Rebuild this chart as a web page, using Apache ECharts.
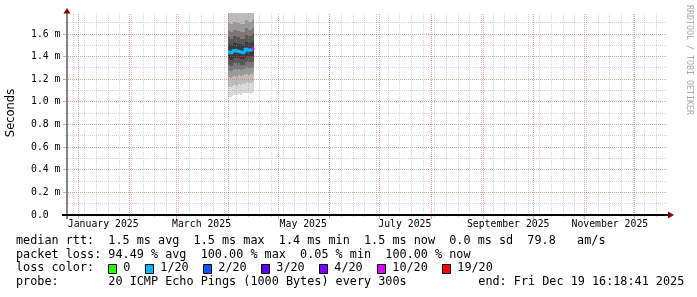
<!DOCTYPE html>
<html><head><meta charset="utf-8">
<script src="https://cdn.jsdelivr.net/npm/echarts@6/dist/echarts.min.js"></script>
<style>html,body{margin:0;padding:0;background:#fff}#c{width:697px;height:297px}</style>
</head><body><div id="c"></div>
<script>
// ---------------- data ----------------
const DAY = 86400000;
const rangeStart = '2024-12-24T16:18:41Z';
const rangeEnd = '2025-12-19T16:18:41Z';
const yMaxMs = 1.786;

const yTickValues = [0, 0.2, 0.4, 0.6, 0.8, 1.0, 1.2, 1.4, 1.6];
const yTickLabels = ['0.0', '0.2 m', '0.4 m', '0.6 m', '0.8 m', '1.0 m', '1.2 m', '1.4 m', '1.6 m'];
const yMinorStep = 0.1;

const xLabelMonths = ['2025-01-01', '2025-03-01', '2025-05-01', '2025-07-01', '2025-09-01', '2025-11-01'];
const xTickLabels = ['January 2025', 'March 2025', 'May 2025', 'July 2025', 'September 2025', 'November 2025'];

// measurement buckets (edges), values in ms
const bucketEdges = ['2025-04-01T00:00Z','2025-04-02T00:00Z','2025-04-03T00:00Z','2025-04-04T00:00Z','2025-04-05T00:00Z',
  '2025-04-06T00:00Z','2025-04-07T00:00Z','2025-04-08T00:00Z','2025-04-09T00:00Z','2025-04-10T00:00Z','2025-04-11T00:00Z',
  '2025-04-12T00:00Z','2025-04-13T00:00Z','2025-04-14T00:00Z','2025-04-15T00:00Z','2025-04-16T00:00Z','2025-04-16T12:00Z'];
const medianRtt = [1.444,1.436,1.432,1.453,1.455,1.450,1.448,1.444,1.438,1.435,1.465,1.466,1.456,1.458,1.462,1.474];
const lossCount = [1,1,1,1,1,1,1,1,1,1,1,1,1,1,1,10];

const smokeLow1 = [1.04,1.04,1.05,1.06,1.06,1.06,1.07,1.06,1.08,1.08,1.08,1.08,1.08,1.07,1.08,1.09];
const smokeLow2 = [1.14,1.13,1.14,1.15,1.15,1.14,1.16,1.15,1.17,1.16,1.17,1.18,1.17,1.17,1.18,1.18];
const smokeLow3 = [1.22,1.21,1.22,1.23,1.23,1.22,1.24,1.23,1.24,1.24,1.25,1.25,1.24,1.25,1.25,1.26];
const smokeLow4 = [1.28,1.27,1.27,1.29,1.29,1.28,1.29,1.28,1.29,1.29,1.30,1.31,1.30,1.30,1.31,1.31];
const smokeLow5 = [1.33,1.32,1.32,1.34,1.34,1.33,1.34,1.33,1.33,1.33,1.35,1.36,1.35,1.35,1.35,1.36];
const smokeLow6 = [1.38,1.37,1.37,1.39,1.39,1.39,1.39,1.38,1.38,1.38,1.40,1.41,1.40,1.40,1.40,1.41];
const smokeHigh6 = [1.51,1.50,1.50,1.52,1.52,1.52,1.51,1.51,1.50,1.50,1.53,1.53,1.52,1.52,1.53,1.54];
const smokeHigh5 = [1.57,1.56,1.56,1.58,1.58,1.57,1.57,1.56,1.56,1.56,1.59,1.59,1.58,1.58,1.59,1.60];
const smokeHigh4 = [1.63,1.62,1.62,1.64,1.64,1.63,1.63,1.62,1.62,1.62,1.65,1.65,1.64,1.64,1.65,1.66];
const smokeHigh3 = [1.70,1.69,1.69,1.71,1.71,1.70,1.70,1.69,1.69,1.69,1.72,1.72,1.71,1.71,1.72,1.73];
const smokeHigh2 = [1.85,1.84,1.84,1.86,1.86,1.85,1.85,1.84,1.84,1.84,1.87,1.87,1.86,1.86,1.87,1.88];
const smokeHigh1 = [2.40,2.38,2.36,2.42,2.41,2.40,2.39,2.37,2.38,2.36,2.44,2.45,2.43,2.42,2.44,2.46];

const lossLevels = [0, 1, 2, 3, 4, 10, 19];
const lossLabels = ['0', '1/20', '2/20', '3/20', '4/20', '10/20', '19/20'];
const lossColors = ['#26ff00', '#00b8ff', '#0059ff', '#5e00ff', '#7e00ff', '#dd00ff', '#ff0000'];

const legendLines = [
  'median rtt:  1.5 ms avg  1.5 ms max  1.4 ms min  1.5 ms now  0.0 ms sd  79.8   am/s',
  'packet loss: 94.49 % avg  100.00 % max  0.05 % min  100.00 % now',
  'loss color:',
  'probe:       20 ICMP Echo Pings (1000 Bytes) every 300s'
];
const endText = 'end: Fri Dec 19 16:18:41 2025';
const yTitle = 'Seconds';
const sideText = 'RRDTOOL / TOBI OETIKER';

// ---------------- build ----------------
const t0 = Date.parse(rangeStart), t1 = Date.parse(rangeEnd);
const edges = bucketEdges.map(s => Date.parse(s));
const bandLows = [smokeLow1, smokeLow2, smokeLow3, smokeLow4, smokeLow5, smokeLow6];
const bandHighs = [smokeHigh1, smokeHigh2, smokeHigh3, smokeHigh4, smokeHigh5, smokeHigh6];
const bandColors = ['#d9d9d9', '#bcbcbc', '#9a9a9a', '#787878', '#575757', '#3a3a3a'];
const GRID_COL = 'rgba(143,143,143,0.38)', MGRID_COL = 'rgba(222,80,80,0.55)';

const smokeData = medianRtt.map((m, i) => {
  const row = [edges[i], edges[i + 1]];
  for (let k = 0; k < 6; k++) { row.push(bandLows[k][i], bandHighs[k][i]); }
  return row;
});
const medianData = medianRtt.map((m, i) => [edges[i], edges[i + 1], i > 0 ? medianRtt[i - 1] : m, m, lossCount[i]]);

function lossColor(l) {
  let c = lossColors[0];
  for (let i = 0; i < lossLevels.length; i++) if (l >= lossLevels[i]) c = lossColors[i];
  return c;
}

// grid lines: weekly (Sunday) minor, monthly major
const vGrid = [];
{
  let d = new Date(t0);
  d = new Date(Date.UTC(d.getUTCFullYear(), d.getUTCMonth(), d.getUTCDate() + 1));
  while (d.getUTCDay() !== 0) d = new Date(d.getTime() + DAY);
  for (let t = d.getTime(); t <= t1; t += 7 * DAY) vGrid.push([t, 0]);
  let m = new Date(Date.UTC(new Date(t0).getUTCFullYear(), new Date(t0).getUTCMonth() + 1, 1));
  while (m.getTime() <= t1) { vGrid.push([m.getTime(), 1]); m = new Date(Date.UTC(m.getUTCFullYear(), m.getUTCMonth() + 1, 1)); }
}
const hGrid = [];
for (let i = 1; i * yMinorStep < yMaxMs; i++) {
  const v = +(i * yMinorStep).toFixed(2);
  hGrid.push([v, Math.abs(v / 0.2 - Math.round(v / 0.2)) < 1e-6 ? 1 : 0]);
}
hGrid.sort((a, b) => a[1] - b[1]);
vGrid.sort((a, b) => a[1] - b[1]);

const xLabelValues = xLabelMonths.map(s => Date.parse(s) + 15 * DAY);

const chart = echarts.init(document.getElementById('c'), null, {renderer: 'canvas', width: 697, height: 297});
const MONO = '"DejaVu Sans Mono", monospace';

const option = {
  animation: false,
  backgroundColor: '#ffffff',
  grid: {left: 66, top: 13, right: 31, bottom: 82, containLabel: false},
  xAxis: {
    type: 'value', min: t0, max: t1,
    axisLine: {show: false}, axisTick: {show: false}, splitLine: {show: false},
    axisLabel: {
      show: true, customValues: xLabelValues, margin: 4,
      fontFamily: MONO, fontSize: 9.8, color: '#000',
      formatter: v => { const i = xLabelValues.findIndex(x => Math.abs(x - v) < 1000); return i >= 0 ? xTickLabels[i] : ''; }
    }
  },
  yAxis: {
    type: 'value', min: 0, max: yMaxMs,
    axisLine: {show: false}, axisTick: {show: false}, splitLine: {show: false},
    axisLabel: {
      show: true, customValues: yTickValues, margin: 35, align: 'left',
      fontFamily: MONO, fontSize: 9.8, color: '#000',
      formatter: v => { const i = yTickValues.findIndex(x => Math.abs(x - v) < 1e-6); return i >= 0 ? yTickLabels[i] : ''; }
    }
  },
  series: [
    {
      type: 'custom', z: 1, data: smokeData,
      encode: {x: [0, 1], y: [2]},
      renderItem: (params, api) => {
        const cs = params.coordSys;
        const xa = Math.round(api.coord([api.value(0), 0])[0]);
        const xb = Math.round(api.coord([api.value(1), 0])[0]);
        const children = [];
        for (let k = 0; k < 6; k++) {
          let ylo = api.coord([api.value(0), api.value(2 + 2 * k)])[1];
          let yhi = api.coord([api.value(0), api.value(3 + 2 * k)])[1];
          yhi = Math.max(yhi, cs.y); ylo = Math.min(ylo, cs.y + cs.height);
          children.push({type: 'rect', shape: {x: xa, y: Math.round(yhi), width: xb - xa, height: Math.round(ylo) - Math.round(yhi)},
            style: {fill: bandColors[k]}});
        }
        return {type: 'group', children};
      }
    },
    {
      type: 'custom', z: 2, data: vGrid, silent: true,
      encode: {x: 0},
      renderItem: (params, api) => {
        const cs = params.coordSys;
        const major = api.value(1) === 1;
        const x = Math.floor(api.coord([api.value(0), 0])[0]) + 0.5;
        const col = major ? MGRID_COL : GRID_COL;
        return {type: 'group', children: [
          {type: 'line', shape: {x1: x, y1: cs.y + cs.height, x2: x, y2: cs.y}, style: {stroke: col, lineWidth: 1, lineDash: [1, 1]}},
          {type: 'line', shape: {x1: x, y1: cs.y + cs.height, x2: x, y2: cs.y + cs.height + (major ? 4 : 2)}, style: {stroke: col, lineWidth: 1}}
        ]};
      }
    },
    {
      type: 'custom', z: 2, data: hGrid, silent: true,
      encode: {y: 0},
      renderItem: (params, api) => {
        const cs = params.coordSys;
        const major = api.value(1) === 1;
        const y = Math.floor(api.coord([t0, api.value(0)])[1]) + 0.5;
        const col = major ? MGRID_COL : GRID_COL;
        return {type: 'group', children: [
          {type: 'line', shape: {x1: cs.x, y1: y, x2: cs.x + cs.width + 2, y2: y}, style: {stroke: col, lineWidth: 1, lineDash: [1, 1]}},
          {type: 'line', shape: {x1: cs.x - (major ? 3 : 1), y1: y, x2: cs.x, y2: y}, style: {stroke: col, lineWidth: 1}}
        ]};
      }
    },
    {
      type: 'custom', z: 3, data: medianData,
      encode: {x: [0, 1], y: [3]},
      renderItem: (params, api) => {
        const xa = Math.round(api.coord([api.value(0), 0])[0]);
        const xb = Math.round(api.coord([api.value(1), 0])[0]);
        const yp = api.coord([api.value(0), api.value(2)])[1];
        const y = api.coord([api.value(0), api.value(3)])[1];
        return {type: 'polyline', shape: {points: [[xa, yp], [xa, y], [xb, y]]},
          style: {stroke: lossColor(api.value(4)), lineWidth: 3, fill: null, lineJoin: 'miter'}};
      }
    }
  ],
  graphic: []
};

// axes and decorations
const G = option.graphic;
G.push({type: 'line', z: 10, shape: {x1: 67, y1: 219, x2: 67, y2: 13}, style: {stroke: '#666', lineWidth: 1.6}});
G.push({type: 'line', z: 10, shape: {x1: 62, y1: 215, x2: 668, y2: 215}, style: {stroke: '#000', lineWidth: 2}});
G.push({type: 'polygon', z: 11, shape: {points: [[63.5, 13.5], [70.5, 13.5], [67, 8]]}, style: {fill: '#800000'}});
G.push({type: 'polygon', z: 11, shape: {points: [[668, 211.5], [668, 218.5], [674, 215]]}, style: {fill: '#800000'}});
G.push({type: 'text', x: 11, y: 113, rotation: Math.PI / 2,
  style: {text: yTitle, font: '11.5px "DejaVu Sans"', fill: '#000', align: 'center', verticalAlign: 'middle', textAlign: 'center', textVerticalAlign: 'middle'}});
G.push({type: 'text', x: 689, y: 5, rotation: -Math.PI / 2,
  style: {text: sideText, font: '8.3px ' + MONO, fill: '#aaaaaa', align: 'left', verticalAlign: 'middle', textAlign: 'left', textVerticalAlign: 'middle'}});
const lineY = [241.3, 254.8, 268.3, 281.8];
const LEG_FONT = '11.8px ' + MONO;
legendLines.forEach((s, i) => {
  G.push({type: 'text', x: 16, y: lineY[i], style: {text: s, font: LEG_FONT, fill: '#000', align: 'left', verticalAlign: 'middle', textAlign: 'left', textVerticalAlign: 'middle'}});
});
G.push({type: 'text', x: 478.3, y: lineY[3], style: {text: endText, font: LEG_FONT, fill: '#000', align: 'left', verticalAlign: 'middle', textAlign: 'left', textVerticalAlign: 'middle'}});
const boxX = [108.5, 145.5, 203.5, 261.5, 319.5, 377.5, 442.5];
lossLabels.forEach((lab, i) => {
  G.push({type: 'rect', shape: {x: boxX[i], y: 264.5, width: 8, height: 9}, style: {fill: lossColors[i], stroke: '#000', lineWidth: 1}});
  G.push({type: 'text', x: boxX[i] + 14.8, y: lineY[2], style: {text: lab, font: LEG_FONT, fill: '#000', align: 'left', verticalAlign: 'middle', textAlign: 'left', textVerticalAlign: 'middle'}});
});

chart.setOption(option);
</script>
</body></html>
